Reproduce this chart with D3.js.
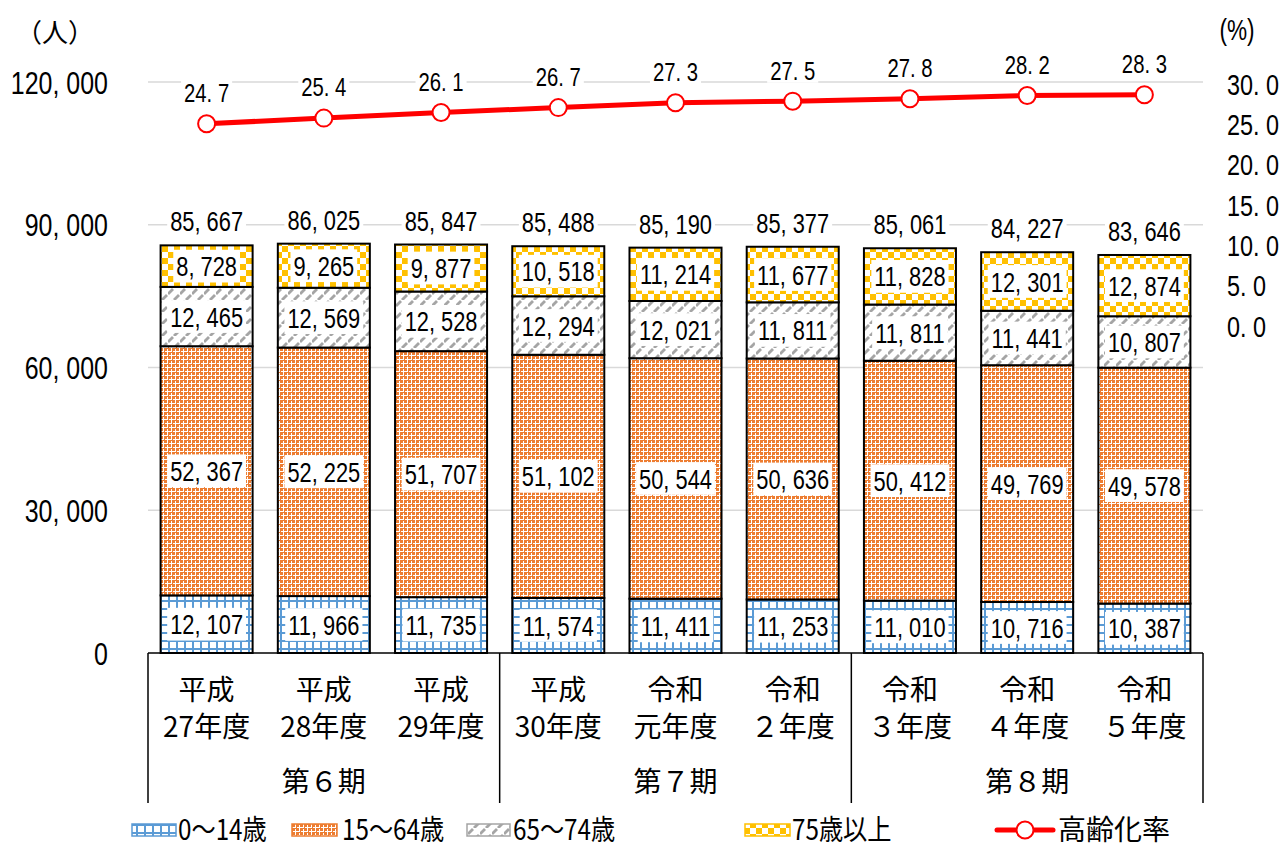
<!DOCTYPE html>
<html><head><meta charset="utf-8">
<script src="https://cdn.jsdelivr.net/npm/d3@7"></script>
<style>
body{margin:0;background:#fff;}
svg text{fill:#000;}
.num{font-family:"Liberation Sans",Arial,sans-serif;}
.jp{font-family:"Noto Sans CJK JP",sans-serif;}
</style></head>
<body><svg id="c" width="1288" height="848"></svg>
<script>
const catLine1 = ["平成","平成","平成","平成","令和","令和","令和","令和","令和"];
const catLine2 = ["27年度","28年度","29年度","30年度","元年度","２年度","３年度","４年度","５年度"];
const periods = ["第６期","第７期","第８期"];
const age0_14  = [12107,11966,11735,11574,11411,11253,11010,10716,10387];
const age15_64 = [52367,52225,51707,51102,50544,50636,50412,49769,49578];
const age65_74 = [12465,12569,12528,12294,12021,11811,11811,11441,10807];
const age75    = [8728,9265,9877,10518,11214,11677,11828,12301,12874];
const totals   = [85667,86025,85847,85488,85190,85377,85061,84227,83646];
const rate     = [24.7,25.4,26.1,26.7,27.3,27.5,27.8,28.2,28.3];
const leftTicks = [0,30000,60000,90000,120000];
const rightTicks = [0,5,10,15,20,25,30];
const seriesNames = ["0～14歳","15～64歳","65～74歳","75歳以上"];
const rateName = "高齢化率";

const svg = d3.select("#c");
const X0 = 148, X1 = 1203, Y0 = 653, Y1 = 82;
const SX = 0.78;
const x = d3.scaleBand().domain(d3.range(9)).range([X0, X1]).paddingInner(0.215).paddingOuter(0.1075);
const y = d3.scaleLinear().domain([0,120000]).range([Y0, Y1]);
const yR = d3.scaleLinear().domain([0,30]).range([323, 81]);
const fmtN = v => d3.format(",")(v).replace(",", ", ");
const fmtP = v => v.toFixed(1).replace(".", ". ");

// patterns
const defs = svg.append("defs");
let p = defs.append("pattern").attr("id","pBlue").attr("patternUnits","userSpaceOnUse").attr("width",8).attr("height",8);
p.append("rect").attr("width",8).attr("height",8).attr("fill","#fff");
p.append("rect").attr("x",0).attr("y",0).attr("width",2).attr("height",8).attr("fill","#5B9BD5");
p.append("rect").attr("x",0).attr("y",0).attr("width",8).attr("height",2).attr("fill","#5B9BD5");

p = defs.append("pattern").attr("id","pOrange").attr("patternUnits","userSpaceOnUse").attr("width",8).attr("height",8);
p.append("rect").attr("width",8).attr("height",8).attr("fill","#fff");
p.append("path").attr("shape-rendering","crispEdges").attr("fill","#ED7D31")
  .attr("d","M0 0h3v3h-3z M4 0h3v3h-3z M0 4h3v3h-3z M4 4h3v3h-3z M3 0h1v1h-1z M7 4h1v1h-1z M0 3h1v1h-1z M4 7h1v1h-1z");

p = defs.append("pattern").attr("id","pGray").attr("patternUnits","userSpaceOnUse").attr("width",12).attr("height",12);
p.append("rect").attr("width",12).attr("height",12).attr("fill","#fff");
p.append("line").attr("x1",0).attr("y1",6).attr("x2",5).attr("y2",1).attr("stroke","#A5A5A5").attr("stroke-width",2.8);
p.append("line").attr("x1",6).attr("y1",12).attr("x2",11).attr("y2",7).attr("stroke","#A5A5A5").attr("stroke-width",2.8);

p = defs.append("pattern").attr("id","pGold").attr("patternUnits","userSpaceOnUse").attr("width",12).attr("height",12);
p.append("rect").attr("width",12).attr("height",12).attr("fill","#fff");
p.append("rect").attr("x",0).attr("y",0).attr("width",6).attr("height",6).attr("fill","#FFC000");
p.append("rect").attr("x",6).attr("y",6).attr("width",6).attr("height",6).attr("fill","#FFC000");

const fills = ["url(#pBlue)","url(#pOrange)","url(#pGray)","url(#pGold)"];
const borders = ["#5B9BD5","#ED7D31","#A5A5A5","#FFC000"];
const series = [age0_14, age15_64, age65_74, age75];

function numText(g, cx, cy, txt, fs, anchor, box, padX, padY) {
  const grp = g.append("g").attr("transform", `translate(${cx},${cy}) scale(${SX},1)`);
  const r = box ? grp.append("rect").attr("fill","#fff") : null;
  const t = grp.append("text").attr("class","num").attr("x",0).attr("y",0).attr("dy","0.36em")
    .attr("text-anchor",anchor).attr("font-size",fs).text(txt);
  if (box) {
    const bb = t.node().getBBox();
    const h = fs*0.74 + 2*padY;
    r.attr("x",bb.x-padX/SX).attr("width",bb.width+2*padX/SX).attr("y",-h/2).attr("height",h);
  }
  return grp;
}

// gridlines
svg.append("g").selectAll("line").data(leftTicks.filter(d=>d>0)).join("line")
  .attr("x1",X0).attr("x2",X1).attr("y1",d=>y(d)).attr("y2",d=>y(d))
  .attr("stroke","#d9d9d9").attr("stroke-width",1.5);

// left axis labels
const gL = svg.append("g");
leftTicks.forEach(d=>numText(gL, 108, y(d), fmtN(d), 32, "end", false));
svg.append("text").attr("class","jp").attr("x",55).attr("y",33).attr("dy","0.36em").attr("text-anchor","middle")
  .attr("font-size",26).text("（人）");
// right axis labels
const gR = svg.append("g");
rightTicks.forEach(d=>numText(gR, 1227, yR(d)+3, fmtP(d), 30, "start", false));
numText(svg, 1237, 30, "(%)", 29, "middle", false);

// stacked bars
const stack = d3.stack().keys([0,1,2,3]).value((d,k)=>series[k][d]);
const stacked = stack(d3.range(9));
const gBars = svg.append("g");
stacked.forEach((layer,k)=>{
  gBars.append("g").selectAll("rect").data(layer).join("rect")
    .attr("x",(d,i)=>x(i)).attr("width",x.bandwidth())
    .attr("y",d=>y(d[1])).attr("height",d=>y(d[0])-y(d[1]))
    .attr("fill",fills[k]).attr("stroke","#000").attr("stroke-width",2);
});

const gLab = svg.append("g");
stacked.forEach((layer,k)=>{
  layer.forEach((d,i)=>{
    const cx = x(i)+x.bandwidth()/2;
    const cy = (y(d[0])+y(d[1]))/2;
    numText(gLab, cx, cy, fmtN(series[k][i]), 28, "middle", true, 3, 6);
  });
});
totals.forEach((v,i)=>{
  numText(gLab, x(i)+x.bandwidth()/2, y(v)-24, fmtN(v), 28, "middle", true, 3, 3);
});

// x axis
const gx = svg.append("g").attr("stroke","#000").attr("stroke-width",1.5);
gx.append("line").attr("x1",X0).attr("x2",X1).attr("y1",Y0).attr("y2",Y0);
[0,3,6,9].forEach(i=>{
  const xx = X0 + (X1-X0)*i/9;
  gx.append("line").attr("x1",xx).attr("x2",xx).attr("y1",Y0).attr("y2",803);
});
const gxt = svg.append("g");
d3.range(9).forEach(i=>{
  const cx = x(i)+x.bandwidth()/2;
  gxt.append("text").attr("class","jp").attr("x",cx).attr("y",690).attr("dy","0.36em").attr("text-anchor","middle").attr("font-size",28).text(catLine1[i]);
  gxt.append("text").attr("class","jp").attr("x",cx).attr("y",727).attr("dy","0.36em").attr("text-anchor","middle").attr("font-size",28).text(catLine2[i]);
});
periods.forEach((p,j)=>{
  const cx = X0 + (X1-X0)*(j*3+1.5)/9;
  gxt.append("text").attr("class","jp").attr("x",cx).attr("y",782).attr("dy","0.36em").attr("text-anchor","middle").attr("font-size",28).text(p);
});

// rate line
const cxs = d3.range(9).map(i=>x(i)+x.bandwidth()/2);
svg.append("path").datum(rate)
  .attr("d", d3.line().x((d,i)=>cxs[i]).y(d=>yR(d)))
  .attr("fill","none").attr("stroke","#FF0000").attr("stroke-width",5);
svg.append("g").selectAll("circle").data(rate).join("circle")
  .attr("cx",(d,i)=>cxs[i]).attr("cy",d=>yR(d)).attr("r",8.5)
  .attr("fill","#fff").attr("stroke","#FF0000").attr("stroke-width",2);
rate.forEach((v,i)=>numText(gLab, cxs[i], yR(v)-31, fmtP(v), 26, "middle", true, 3, 3));

// legend
const legY = 830;
const legItems = [
  {x:132, w:44, tx:178},
  {x:292, w:45, tx:342},
  {x:467, w:43, tx:513},
  {x:745, w:45, tx:792}
];
legItems.forEach((it,k)=>{
  svg.append("rect").attr("x",it.x).attr("y",legY-6).attr("width",it.w).attr("height",12)
    .attr("fill",fills[k]).attr("stroke",borders[k]).attr("stroke-width",1.5);
  svg.append("g").attr("transform",`translate(${it.tx},${legY}) scale(0.85,1)`)
    .append("text").attr("class","jp").attr("x",0).attr("y",0).attr("dy","0.36em").attr("font-size",28.5).text(seriesNames[k]);
});
svg.append("line").attr("x1",997).attr("x2",1053).attr("y1",legY).attr("y2",legY).attr("stroke","#FF0000").attr("stroke-width",5).attr("stroke-linecap","round");
svg.append("circle").attr("cx",1025).attr("cy",legY).attr("r",8.5).attr("fill","#fff").attr("stroke","#FF0000").attr("stroke-width",2);
svg.append("text").attr("class","jp").attr("x",1058).attr("y",legY).attr("dy","0.36em").attr("font-size",28).text(rateName);
</script></body></html>
